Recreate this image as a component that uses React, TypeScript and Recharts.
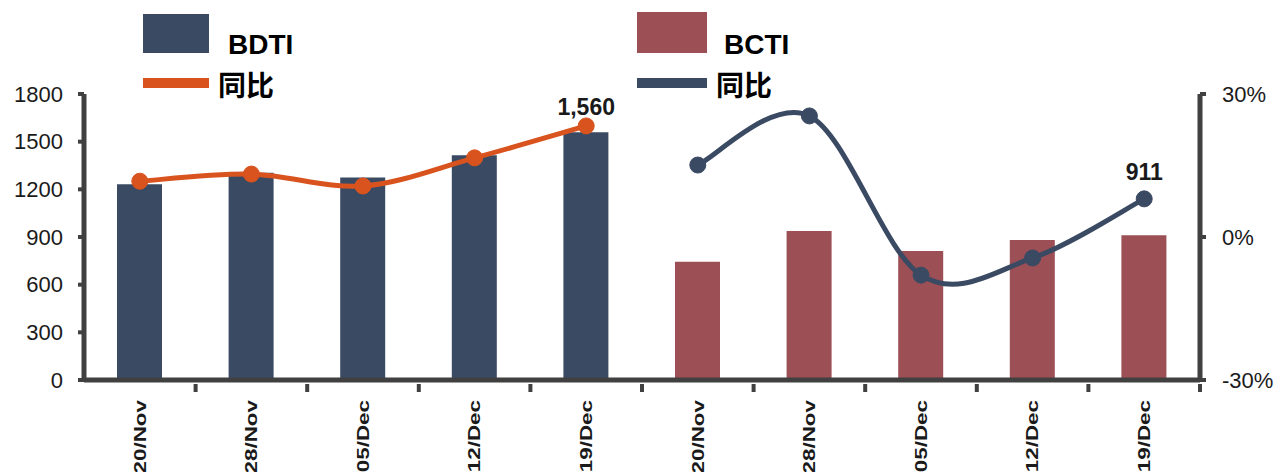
import React from 'react';
import { ComposedChart, Bar, Line, XAxis, YAxis, LabelList } from 'recharts';

const categories = ['20/Nov', '28/Nov', '05/Dec', '12/Dec', '19/Dec', '20/Nov', '28/Nov', '05/Dec', '12/Dec', '19/Dec'];
const bdti = [1232, 1305, 1275, 1415, 1560, null, null, null, null, null];
const bcti = [null, null, null, null, null, 745, 938, 812, 881, 911];
const bdtiYoy = [11.7, 13.2, 10.7, 16.6, 23.3, null, null, null, null, null];
const bctiYoy = [null, null, null, null, null, 15.1, 25.4, -8.0, -4.4, 8.0];
const leftTicks = [0, 300, 600, 900, 1200, 1500, 1800];
const rightTicks = [-30, 0, 30];

const NAVY = '#3b4a63';
const RED = '#9c4f54';
const ORANGE = '#d9531e';
const AXIS = '#404040';
const FONT = '"Liberation Sans", Arial, sans-serif';

const W = 1277;
const H = 472;
const LEFT = 84;
const RIGHT = 77;
const BAND = (W - LEFT - RIGHT) / categories.length;

const data = categories.map((c, i) => ({
  name: c,
  bdti: bdti[i],
  bcti: bcti[i],
  bdtiYoy: bdtiYoy[i],
  bctiYoy: bctiYoy[i],
  bdtiLabel: i === 4 ? bdti[i] : null,
  bctiLabel: i === 9 ? bcti[i] : null,
}));

// excel-style smoothing: bezier control points at 1/6 of neighbour differences
const smoothCurve = (ctx: any) => {
  let pts: number[][] = [];
  return {
    areaStart() {},
    areaEnd() {},
    lineStart() {
      pts = [];
    },
    point(x: number, y: number) {
      pts.push([+x, +y]);
    },
    lineEnd() {
      if (!pts.length) return;
      ctx.moveTo(pts[0][0], pts[0][1]);
      for (let i = 0; i < pts.length - 1; i++) {
        const p0 = pts[Math.max(i - 1, 0)];
        const p1 = pts[i];
        const p2 = pts[i + 1];
        const p3 = pts[Math.min(i + 2, pts.length - 1)];
        ctx.bezierCurveTo(
          p1[0] + (p2[0] - p0[0]) / 6,
          p1[1] + (p2[1] - p0[1]) / 6,
          p2[0] - (p3[0] - p1[0]) / 6,
          p2[1] - (p3[1] - p1[1]) / 6,
          p2[0],
          p2[1]
        );
      }
    },
  };
};

const XTick = (props: any) => {
  const { x, y, payload } = props;
  return (
    <g>
      <line x1={x + BAND / 2} x2={x + BAND / 2} y1={y - 4} y2={y + 4} stroke={AXIS} strokeWidth={4} />
      <text
        x={0}
        y={0}
        transform={`translate(${x},${y + 12}) rotate(-90) scale(1.4,1)`}
        textAnchor="end"
        dy="0.36em"
        fontSize={16}
        fontWeight="bold"
        fontFamily={FONT}
        fill="#1a1a1a"
      >
        {payload.value}
      </text>
    </g>
  );
};

const makeLabel = (offset: number) => (props: any) => {
  const { x, y, value } = props;
  if (value == null) return null;
  return (
    <text
      x={x}
      y={y - offset}
      textAnchor="middle"
      fontSize={23}
      fontWeight="bold"
      fontFamily={FONT}
      fill="#1a1a1a"
    >
      {Number(value).toLocaleString('en-US')}
    </text>
  );
};

const legendText = {
  position: 'absolute' as const,
  fontFamily: '"Noto Sans CJK SC", "Liberation Sans", sans-serif',
  fontWeight: 'bold' as const,
  fontSize: 28,
  color: '#000',
  lineHeight: 1,
};

export default function App() {
  return (
    <div style={{ position: 'absolute', left: 0, top: 0, width: W, height: H, background: '#fff' }}>
      <ComposedChart width={W} height={H} data={data} margin={{ top: 94, right: 0, bottom: 0, left: 0 }}>
        <XAxis
          dataKey="name"
          height={92}
          interval={0}
          tick={<XTick />}
          tickLine={false}
          axisLine={{ stroke: AXIS, strokeWidth: 5 }}
        />
        <YAxis
          yAxisId="left"
          width={LEFT}
          domain={[0, 1800]}
          ticks={leftTicks}
          interval={0}
          tickSize={6}
          tickMargin={15}
          tickLine={{ stroke: AXIS, strokeWidth: 4 }}
          axisLine={{ stroke: AXIS, strokeWidth: 5 }}
          tick={{ fontSize: 22, fontFamily: FONT, fill: '#1a1a1a' }}
        />
        <YAxis
          yAxisId="right"
          orientation="right"
          width={RIGHT}
          domain={[-30, 30]}
          ticks={rightTicks}
          interval={0}
          tickSize={6}
          tickMargin={16}
          tickFormatter={(v: number) => `${v}%`}
          tickLine={{ stroke: AXIS, strokeWidth: 4 }}
          axisLine={{ stroke: AXIS, strokeWidth: 5 }}
          tick={{ fontSize: 22, fontFamily: FONT, fill: '#1a1a1a', textAnchor: 'start' }}
        />
        <Bar yAxisId="left" dataKey="bdti" stackId="a" fill={NAVY} barSize={45} isAnimationActive={false} />
        <Bar yAxisId="left" dataKey="bcti" stackId="a" fill={RED} barSize={45} isAnimationActive={false} />
        <Line
          yAxisId="right"
          dataKey="bdtiYoy"
          type={smoothCurve as any}
          stroke={ORANGE}
          strokeWidth={5}
          dot={{ r: 8, fill: ORANGE, stroke: ORANGE, strokeWidth: 1 }}
          activeDot={false}
          isAnimationActive={false}
        >
          <LabelList dataKey="bdtiLabel" content={makeLabel(11)} />
        </Line>
        <Line
          yAxisId="right"
          dataKey="bctiYoy"
          type={smoothCurve as any}
          stroke={NAVY}
          strokeWidth={5}
          dot={{ r: 8, fill: NAVY, stroke: NAVY, strokeWidth: 1 }}
          activeDot={false}
          isAnimationActive={false}
        >
          <LabelList dataKey="bctiLabel" content={makeLabel(19)} />
        </Line>
      </ComposedChart>

      <div style={{ position: 'absolute', left: 143, top: 14, width: 66, height: 39, background: NAVY }} />
      <div style={{ ...legendText, left: 228, top: 31, fontFamily: FONT }}>BDTI</div>
      <div style={{ position: 'absolute', left: 143, top: 78, width: 66, height: 10, background: ORANGE }} />
      <div style={{ ...legendText, left: 218, top: 70 }}>同比</div>

      <div style={{ position: 'absolute', left: 637, top: 12, width: 70, height: 41, background: RED }} />
      <div style={{ ...legendText, left: 724, top: 31, fontFamily: FONT }}>BCTI</div>
      <div style={{ position: 'absolute', left: 637, top: 78, width: 70, height: 10, background: NAVY }} />
      <div style={{ ...legendText, left: 716, top: 70 }}>同比</div>
    </div>
  );
}
